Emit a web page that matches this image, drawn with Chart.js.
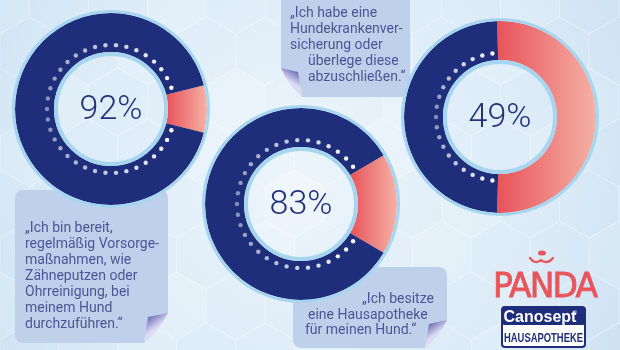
<!DOCTYPE html>
<html lang="de">
<head>
<meta charset="utf-8">
<title>Hundegesundheit – Umfrage</title>
<script src="https://cdn.jsdelivr.net/npm/chart.js@4.4.1/dist/chart.umd.min.js"></script>
<style>
  html, body { margin: 0; padding: 0; }
  body { width: 620px; height: 350px; overflow: hidden; position: relative; background: #d6e8f5; }
  #bg { position: absolute; left: 0; top: 0; z-index: 0; }
  #texts { position: absolute; left: 0; top: 0; z-index: 1; }
  .donut { position: absolute; z-index: 2; }
</style>
</head>
<body>
<canvas id="bg" width="620" height="350"></canvas>

<svg id="texts" width="620" height="350" xmlns="http://www.w3.org/2000/svg">
  <g id="quotes" font-family="Roboto, 'Liberation Sans', sans-serif" font-size="14" fill="#4a5696"></g>

  <!-- PANDA logo -->
  <g fill="#e9555b">
    <ellipse cx="542" cy="253" rx="4" ry="2.6"></ellipse>
    <path d="M530 258 Q535 265 541 260 Q547 265 553 258" fill="none" stroke="#e9555b" stroke-width="2.2" stroke-linecap="round"></path>
    <text x="493" y="297" font-family="'DejaVu Sans', sans-serif" font-size="33" stroke="#e9555b" stroke-width="0.8" textLength="105" lengthAdjust="spacing">PANDA</text>
  </g>

  <!-- Canosept Hausapotheke badge -->
  <rect x="502" y="307" width="83" height="40" rx="3" fill="#ffffff" stroke="#1e2e7a" stroke-width="2"></rect>
  <rect x="502" y="307" width="83" height="18" rx="2" fill="#1e2e7a"></rect>
  <text x="540" y="322" text-anchor="middle" font-family="'Liberation Sans Narrow', 'Liberation Sans', sans-serif" font-weight="bold" font-size="16" fill="#ffffff">Canosept</text>
  <text x="575" y="315" text-anchor="middle" font-family="'Liberation Sans', sans-serif" font-size="6" fill="#ffffff">®</text>
  <text x="543.5" y="342" text-anchor="middle" font-family="'Liberation Sans Narrow', 'Liberation Sans', sans-serif" font-weight="bold" font-size="13.5" fill="#1e2e7a" textLength="79" lengthAdjust="spacingAndGlyphs">HAUSAPOTHEKE</text>
</svg>

<script>
// ---- Survey data -------------------------------------------------------
// Share of dog owners agreeing with each statement (navy part of the ring)
const statements = ['Vorsorge', 'Hausapotheke', 'Krankenversicherung'];
const agreeShare = [92, 83, 49];
// Remaining share (red part of the ring)
const restShare = [8, 17, 51];
const segmentLabels = ['Rest', 'Zustimmung'];

// Quote lines belonging to each statement
const quoteVorsorge = ['„Ich bin bereit,', 'regelmäßig Vorsorge-', 'maßnahmen, wie', 'Zähneputzen oder', 'Ohrreinigung, bei', 'meinem Hund', 'durchzuführen.“'];
const quoteHausapotheke = ['„Ich besitze', 'eine Hausapotheke', 'für meinen Hund.“'];
const quoteVersicherung = ['„Ich habe eine', 'Hundekrankenver-', 'sicherung oder', 'überlege diese', 'abzuschließen.“'];

// ---- Layout & style ----------------------------------------------------
const NAVY = '#1e2e7a';
const RIM = '#a6d5f0';
const LABEL = '#23327d';
const donutCentres = [{ x: 111, y: 109 }, { x: 301, y: 204 }, { x: 500, y: 117 }];
const DONUT_BOX = 204;

const notes = [
  { x: 15, y: 190, w: 153, h: 153, fold: 'br', fw: 24, fh: 30 },
  { x: 293, y: 267, w: 154, h: 81, fold: 'br', fw: 22, fh: 28 },
  { x: 281, y: -10, w: 129, h: 107, fold: 'bl', fw: 21, fh: 29 }
];
const quoteBlocks = [
  { lines: quoteVorsorge, x: [25, 25, 25, 25, 25, 25, 25], y0: 232, dy: 16 },
  { lines: quoteHausapotheke, x: [362, 308, 305], y0: 303, dy: 15.5 },
  { lines: quoteVersicherung, x: [290, 290, 290, 308, 308], y0: 17, dy: 16 }
];

// ---- Background --------------------------------------------------------
function drawBackground() {
  const c = document.getElementById('bg').getContext('2d');
  const g = c.createRadialGradient(300, 170, 20, 300, 170, 400);
  g.addColorStop(0, '#eef6fc');
  g.addColorStop(0.6, '#deedf8');
  g.addColorStop(1, '#cde2f3');
  c.fillStyle = g;
  c.fillRect(0, 0, 620, 350);

  // soft hexagon tiling
  const s = 34, hw = Math.sqrt(3) * s;
  c.lineWidth = 1;
  for (let row = -1; row < 9; row++) {
    for (let col = -1; col < 12; col++) {
      const cx = col * hw + (row % 2 ? hw / 2 : 0);
      const cy = row * s * 1.5;
      c.beginPath();
      for (let k = 0; k < 6; k++) {
        const a = Math.PI / 6 + k * Math.PI / 3;
        const px = cx + s * Math.cos(a), py = cy + s * Math.sin(a);
        k ? c.lineTo(px, py) : c.moveTo(px, py);
      }
      c.closePath();
      c.fillStyle = (row + col) % 3 === 0 ? 'rgba(255,255,255,0.07)' : 'rgba(160,195,225,0.03)';
      c.fill();
      c.strokeStyle = 'rgba(255,255,255,0.22)';
      c.stroke();
    }
  }

  // note cards with a curled corner
  notes.forEach(n => {
    const r = 8, { x, y, w, h, fw, fh } = n;
    c.beginPath();
    if (n.fold === 'br') {
      c.moveTo(x + r, y);
      c.lineTo(x + w - r, y); c.arcTo(x + w, y, x + w, y + r, r);
      c.lineTo(x + w, y + h - fh);
      c.lineTo(x + w - fw, y + h);
      c.lineTo(x + r, y + h); c.arcTo(x, y + h, x, y + h - r, r);
      c.lineTo(x, y + r); c.arcTo(x, y, x + r, y, r);
    } else {
      c.moveTo(x + r, y);
      c.lineTo(x + w - r, y); c.arcTo(x + w, y, x + w, y + r, r);
      c.lineTo(x + w, y + h - r); c.arcTo(x + w, y + h, x + w - r, y + h, r);
      c.lineTo(x + fw, y + h);
      c.lineTo(x, y + h - fh);
      c.lineTo(x, y + r); c.arcTo(x, y, x + r, y, r);
    }
    c.closePath();
    c.fillStyle = '#bfd1ea';
    c.fill();

    let A, B, T;
    if (n.fold === 'br') {
      A = { x: x + w, y: y + h - fh }; B = { x: x + w - fw, y: y + h };
      T = { x: B.x + 4, y: A.y + 4 };
    } else {
      A = { x: x, y: y + h - fh }; B = { x: x + fw, y: y + h };
      T = { x: B.x - 4, y: A.y + 4 };
    }
    const mx = (A.x + B.x) / 2, my = (A.y + B.y) / 2;
    const fg = c.createLinearGradient(T.x, T.y, mx, my);
    fg.addColorStop(0, '#6e6ab5');
    fg.addColorStop(1, '#dcdbf4');
    c.beginPath();
    c.moveTo(A.x, A.y); c.lineTo(T.x, T.y); c.lineTo(B.x, B.y);
    c.quadraticCurveTo(mx + (n.fold === 'br' ? 3 : -3), my + 3, A.x, A.y);
    c.closePath();
    c.fillStyle = fg;
    c.fill();
  });
}

// ---- Quote text --------------------------------------------------------
function drawQuotes() {
  const ns = 'http://www.w3.org/2000/svg';
  const g = document.getElementById('quotes');
  quoteBlocks.forEach(b => {
    b.lines.forEach((line, i) => {
      const t = document.createElementNS(ns, 'text');
      t.setAttribute('x', b.x[i]);
      t.setAttribute('y', b.y0 + i * b.dy);
      t.textContent = line;
      g.appendChild(t);
    });
  });
}

// ---- Doughnuts ---------------------------------------------------------
// Segment colours: navy for agreement, red gradient across the rest slice
function segmentFill(context) {
  if (context.dataIndex !== 0) return NAVY;
  const chart = context.chart;
  const area = chart.chartArea;
  if (!area) return '#ec6a66';
  const cx = (area.left + area.right) / 2;
  const outer = Math.min(area.right - area.left, area.bottom - area.top) / 2;
  const inner = outer * 0.594;
  const half = context.raw * 1.8 * Math.PI / 180;
  const x0 = half < Math.PI / 2 ? cx + inner * Math.cos(half) : cx + outer * Math.cos(half);
  const grad = chart.ctx.createLinearGradient(x0, 0, cx + outer, 0);
  grad.addColorStop(0, '#e8535a');
  grad.addColorStop(1, '#f5b1a5');
  return grad;
}

// Rims, dotted inner track and the centre percentage
const donutDecor = {
  id: 'donutDecor',
  afterDatasetsDraw(chart) {
    const ctx = chart.ctx;
    const meta = chart.getDatasetMeta(0);
    const main = meta.data[1];
    const p = main.getProps(['x', 'y', 'innerRadius', 'outerRadius', 'startAngle', 'endAngle'], true);
    ctx.save();
    ctx.strokeStyle = RIM;
    ctx.lineWidth = 3;
    ctx.beginPath(); ctx.arc(p.x, p.y, p.outerRadius + 1.5, 0, Math.PI * 2); ctx.stroke();
    ctx.lineWidth = 4;
    ctx.beginPath(); ctx.arc(p.x, p.y, p.innerRadius - 2, 0, Math.PI * 2); ctx.stroke();

    const s = p.startAngle, e = p.endAngle;
    const margin = 5 * Math.PI / 180;
    const span = e - s - 2 * margin;
    const n = Math.round(span / (9.5 * Math.PI / 180));
    const r = p.innerRadius + 7;
    for (let k = 0; k <= n; k++) {
      const a = s + margin + span * k / n;
      const d = Math.min(a - s, e - a);
      const t = d / ((e - s) / 2);
      ctx.fillStyle = 'rgba(255,255,255,' + (1 - 0.55 * t).toFixed(3) + ')';
      ctx.beginPath();
      ctx.arc(p.x + r * Math.cos(a), p.y + r * Math.sin(a), 2.2, 0, Math.PI * 2);
      ctx.fill();
    }

    ctx.fillStyle = LABEL;
    ctx.font = '300 34px Roboto, "Liberation Sans", sans-serif';
    ctx.textAlign = 'center';
    ctx.textBaseline = 'middle';
    ctx.fillText(chart.data.datasets[0].data[1] + '%', p.x, p.y + 1);
    ctx.restore();
  }
};

function makeDonut(i) {
  const canvas = document.createElement('canvas');
  canvas.className = 'donut';
  canvas.width = DONUT_BOX;
  canvas.height = DONUT_BOX;
  canvas.style.left = (donutCentres[i].x - DONUT_BOX / 2) + 'px';
  canvas.style.top = (donutCentres[i].y - DONUT_BOX / 2) + 'px';
  document.body.appendChild(canvas);

  new Chart(canvas, {
    type: 'doughnut',
    data: {
      labels: segmentLabels,
      datasets: [{
        label: statements[i],
        data: [restShare[i], agreeShare[i]],
        backgroundColor: segmentFill,
        borderWidth: 0,
        hoverOffset: 0
      }]
    },
    options: {
      responsive: false,
      animation: false,
      events: [],
      cutout: '59.4%',
      rotation: 90 - restShare[i] * 1.8,
      layout: { padding: 6 },
      plugins: { legend: { display: false }, tooltip: { enabled: false } }
    },
    plugins: [donutDecor]
  });
}

drawBackground();
drawQuotes();
agreeShare.forEach((_, i) => makeDonut(i));
</script>
</body>
</html>
